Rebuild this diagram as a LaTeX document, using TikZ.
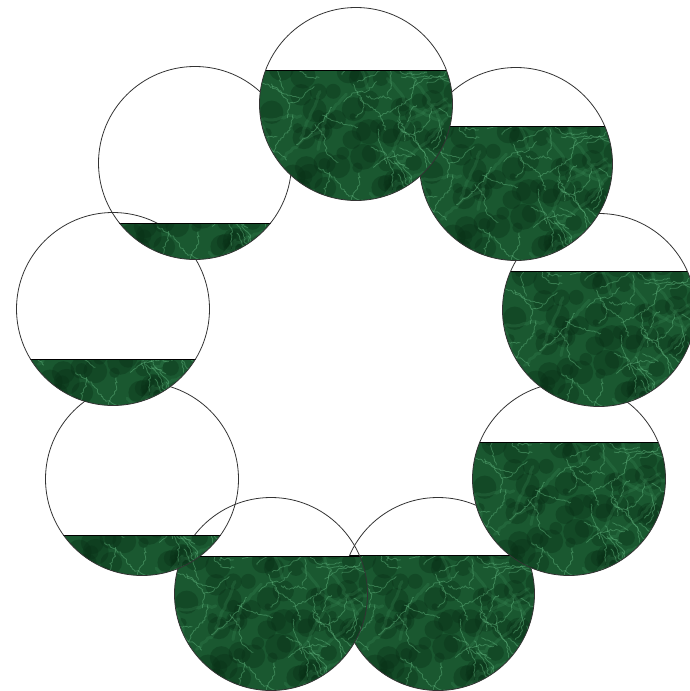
\documentclass[tikz,border=0pt]{standalone}
\usetikzlibrary{decorations.pathmorphing}
\definecolor{mbase}{RGB}{26,88,48}
\definecolor{mdark}{RGB}{8,46,22}
\definecolor{mlight}{RGB}{70,155,100}
\definecolor{mvein}{RGB}{100,185,130}
\tikzset{
  chordline/.style={draw=black, line width=0.9pt},
  ringline/.style={draw=black!80, line width=0.8pt},
  veinline/.style={draw=mvein, line width=0.8pt, opacity=0.45, decorate,
    decoration={random steps, segment length=2pt, amplitude=1.1pt}},
  widevein/.style={draw=mlight, line width=3pt, opacity=0.2, line cap=round, line join=round, decorate,
    decoration={random steps, segment length=4pt, amplitude=1.5pt}},
}
\newcommand{\marbletex}{%
  \fill[mbase] (-100,-100) rectangle (100,100);
  \foreach \k in {1,...,120}{%
    \pgfmathsetmacro{\bx}{rnd*200-100}%
    \pgfmathsetmacro{\by}{rnd*200-100}%
    \pgfmathsetmacro{\br}{3+rnd*10}%
    \fill[mdark, opacity=0.35] (\bx,\by) circle (\br);
  }
  \foreach \k in {1,...,25}{%
    \pgfmathsetmacro{\vx}{rnd*200-100}%
    \pgfmathsetmacro{\vy}{rnd*200-100}%
    \pgfmathsetmacro{\va}{rnd*360}%
    \pgfmathsetmacro{\vb}{\va+rnd*80-40}%
    \pgfmathsetmacro{\vl}{15+rnd*30}%
    \draw[widevein] (\vx,\vy) -- ++(\va:\vl) -- ++(\vb:\vl);
  }
  \foreach \k in {1,...,85}{%
    \pgfmathsetmacro{\vx}{rnd*200-100}%
    \pgfmathsetmacro{\vy}{rnd*200-100}%
    \pgfmathsetmacro{\va}{rnd*360}%
    \pgfmathsetmacro{\vb}{\va+rnd*90-45}%
    \pgfmathsetmacro{\vc}{\vb+rnd*90-45}%
    \pgfmathsetmacro{\vl}{6+rnd*14}%
    \draw[veinline] (\vx,\vy) -- ++(\va:\vl) -- ++(\vb:\vl) -- ++(\vc:\vl);
  }
}
\newcommand{\R}{96.5}
\newcommand{\mcircle}[3]{%
  \begin{scope}
    \clip (#1,#2) circle (\R);
    \clip (#1-\R-2,#2+#3) rectangle (#1+\R+2,#2+\R+2);
    \pgfmathsetseed{4711}
    \begin{scope}[shift={(#1,#2)}]
      \marbletex
    \end{scope}
  \end{scope}
  \pgfmathsetmacro{\hw}{sqrt(\R*\R-(#3)*(#3))}
  \draw[chordline] (#1-\hw,#2+#3) -- (#1+\hw,#2+#3);
  \draw[ringline] (#1,#2) circle (\R);
}
\begin{document}
\begin{tikzpicture}[x=1pt,y=-1pt]
  \useasboundingbox (0,0) rectangle (690,691);
  \clip (0,0) rectangle (690,691);
  \fill[white] (0,0) rectangle (690,691);
  \mcircle{438}{594}{-39}
  \mcircle{569}{479}{-37}
  \mcircle{599}{310}{-39}
  \mcircle{516}{164}{-38}
  \mcircle{271}{594}{-38}
  \mcircle{142}{479}{56}
  \mcircle{113}{309}{50}
  \mcircle{195}{163}{60}
  \mcircle{356}{104}{-34}
\end{tikzpicture}
\end{document}
